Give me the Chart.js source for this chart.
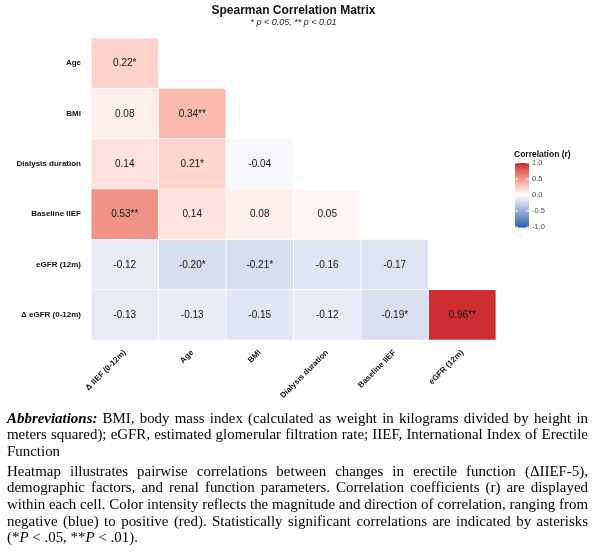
<!DOCTYPE html>
<html>
<head>
<meta charset="utf-8">
<script src="https://cdn.jsdelivr.net/npm/chart.js@4.4.1/dist/chart.umd.min.js"></script>
<style>
  html, body { margin: 0; padding: 0; background: #fff; }
  #wrap { position: relative; width: 592px; height: 553px; overflow: hidden; }
  #c { position: absolute; left: 0; top: 0; }
  #note { position: absolute; left: 7px; top: 410.5px; width: 581px; font-family: "Liberation Serif", "DejaVu Serif", serif; color: #000; font-size: 14px; line-height: 16.7px; transform-origin: 0 0; }
  #note .ln { white-space: nowrap; }
  #note .j { text-align: justify; text-align-last: justify; }
  #note .gap { margin-top: 3px; }
</style>
</head>
<body>
<div id="wrap">
  <canvas id="c" width="592" height="553"></canvas>
  <div id="note">
    <div class="ln j"><span><b><i>Abbreviations:</i></b> BMI, body mass index (calculated as weight in kilograms divided by height in</span></div>
    <div class="ln j"><span>meters squared); eGFR, estimated glomerular filtration rate; IIEF, International Index of Erectile</span></div>
    <div class="ln"><span>Function</span></div>
    <div class="ln j gap"><span>Heatmap illustrates pairwise correlations between changes in erectile function (ΔIIEF-5),</span></div>
    <div class="ln j"><span>demographic factors, and renal function parameters. Correlation coefficients (r) are displayed</span></div>
    <div class="ln j"><span>within each cell. Color intensity reflects the magnitude and direction of correlation, ranging from</span></div>
    <div class="ln j"><span>negative (blue) to positive (red). Statistically significant correlations are indicated by asterisks</span></div>
    <div class="ln"><span>(*<i>P</i> &lt; .05, **<i>P</i> &lt; .01).</span></div>
  </div>
</div>
<script>
// ---------------- data ----------------
const colLabels = ['Δ IIEF (0-12m)', 'Age', 'BMI', 'Dialysis duration', 'Baseline IIEF', 'eGFR (12m)'];
const rowLabels = ['Age', 'BMI', 'Dialysis duration', 'Baseline IIEF', 'eGFR (12m)', 'Δ eGFR (0-12m)'];

const corrAge          = [0.22];
const corrBMI          = [0.08, 0.34];
const corrDialysis     = [0.14, 0.21, -0.04];
const corrBaselineIIEF = [0.53, 0.14, 0.08, 0.05];
const corrEGFR12       = [-0.12, -0.20, -0.21, -0.16, -0.17];
const corrDeltaEGFR    = [-0.13, -0.13, -0.15, -0.12, -0.19, 0.96];

const sigAge          = ['*'];
const sigBMI          = ['', '**'];
const sigDialysis     = ['', '*', ''];
const sigBaselineIIEF = ['**', '', '', ''];
const sigEGFR12       = ['', '*', '*', '', ''];
const sigDeltaEGFR    = ['', '', '', '', '*', '**'];

const legendTicks = [1.0, 0.5, 0.0, -0.5, -1.0];
const legendTitle = 'Correlation (r)';
const titleText = 'Spearman Correlation Matrix';
const subtitleText = '* p < 0.05, ** p < 0.01';

const rowValues = [corrAge, corrBMI, corrDialysis, corrBaselineIIEF, corrEGFR12, corrDeltaEGFR];
const rowSig = [sigAge, sigBMI, sigDialysis, sigBaselineIIEF, sigEGFR12, sigDeltaEGFR];

// ---------------- colour (Lab gradient2) ----------------
function srgb2lin(c) { c /= 255; return c <= 0.04045 ? c / 12.92 : Math.pow((c + 0.055) / 1.055, 2.4); }
function lin2srgb(c) { c = c <= 0.0031308 ? 12.92 * c : 1.055 * Math.pow(c, 1 / 2.4) - 0.055; return Math.max(0, Math.min(255, Math.round(c * 255))); }
function hex2lab(h) {
  const r = srgb2lin(parseInt(h.slice(1, 3), 16)), g = srgb2lin(parseInt(h.slice(3, 5), 16)), b = srgb2lin(parseInt(h.slice(5, 7), 16));
  let X = (0.4124 * r + 0.3576 * g + 0.1805 * b) / 0.95047;
  let Y = (0.2126 * r + 0.7152 * g + 0.0722 * b);
  let Z = (0.0193 * r + 0.1192 * g + 0.9505 * b) / 1.08883;
  const f = t => t > 0.008856 ? Math.cbrt(t) : 7.787 * t + 16 / 116;
  X = f(X); Y = f(Y); Z = f(Z);
  return [116 * Y - 16, 500 * (X - Y), 200 * (Y - Z)];
}
function lab2rgb(L, a, b) {
  let Y = (L + 16) / 116, X = a / 500 + Y, Z = Y - b / 200;
  const fi = t => t * t * t > 0.008856 ? t * t * t : (t - 16 / 116) / 7.787;
  X = fi(X) * 0.95047; Y = fi(Y); Z = fi(Z) * 1.08883;
  const r = 3.2406 * X - 1.5372 * Y - 0.4986 * Z;
  const g = -0.9689 * X + 1.8758 * Y + 0.0415 * Z;
  const bb = 0.0557 * X - 0.2040 * Y + 1.0570 * Z;
  return 'rgb(' + lin2srgb(r) + ',' + lin2srgb(g) + ',' + lin2srgb(bb) + ')';
}
const LOW = hex2lab('#2166AC'), MID = hex2lab('#FFFFFF'), HIGH = hex2lab('#CA1E2A');
function colorFor(v) {
  const t = Math.min(1, Math.abs(v));
  const end = v >= 0 ? HIGH : LOW;
  return lab2rgb(MID[0] + (end[0] - MID[0]) * t, MID[1] + (end[1] - MID[1]) * t, MID[2] + (end[2] - MID[2]) * t);
}

// ---------------- datasets ----------------
const datasets = rowValues.map((vals, r) => ({
  label: rowLabels[r],
  data: colLabels.map((_, j) => j < vals.length ? [r, r + 1] : null),
  backgroundColor: colLabels.map((_, j) => j < vals.length ? colorFor(vals[j]) : 'rgba(0,0,0,0)'),
  borderColor: '#ffffff',
  borderWidth: 0.7,
  borderSkipped: false,
  barPercentage: 1,
  categoryPercentage: 1,
  grouped: false
}));

const SANS = '"Liberation Sans", Arial, Helvetica, sans-serif';

const cellLabels = {
  id: 'cellLabels',
  afterDatasetsDraw(chart) {
    const ctx = chart.ctx;
    ctx.save();
    ctx.font = '10px ' + SANS;
    ctx.fillStyle = '#111';
    ctx.textAlign = 'center';
    ctx.textBaseline = 'middle';
    rowValues.forEach((vals, r) => {
      const meta = chart.getDatasetMeta(r);
      vals.forEach((v, j) => {
        const el = meta.data[j];
        const p = el.getProps(['x', 'y', 'base'], true);
        ctx.fillText(v.toFixed(2) + rowSig[r][j], p.x, (p.y + p.base) / 2 + 0.5);
      });
    });
    ctx.restore();
  }
};

const colorBar = {
  id: 'colorBar',
  afterDraw(chart) {
    const ctx = chart.ctx;
    const x0 = 515, w = 14, yTop = 163, yBot = 227;
    ctx.save();
    ctx.font = 'bold 8.5px ' + SANS;
    ctx.fillStyle = '#111';
    ctx.textAlign = 'left';
    ctx.textBaseline = 'middle';
    ctx.fillText(legendTitle, 514, 155);
    const vMax = legendTicks[0], vMin = legendTicks[legendTicks.length - 1];
    const steps = 64;
    for (let i = 0; i < steps; i++) {
      const v = vMax - (vMax - vMin) * (i + 0.5) / steps;
      ctx.fillStyle = colorFor(v);
      const y = yTop + (yBot - yTop) * i / steps;
      ctx.fillRect(x0, y, w, (yBot - yTop) / steps + 0.6);
    }
    ctx.font = '7.5px ' + SANS;
    ctx.fillStyle = '#4d4d4d';
    legendTicks.forEach(t => {
      const y = yTop + (vMax - t) / (vMax - vMin) * (yBot - yTop);
      ctx.strokeStyle = '#ffffff';
      ctx.lineWidth = 1;
      ctx.beginPath();
      ctx.moveTo(x0, y); ctx.lineTo(x0 + 3, y);
      ctx.moveTo(x0 + w - 3, y); ctx.lineTo(x0 + w, y);
      ctx.stroke();
      ctx.fillText(t.toFixed(1), 532, y);
    });
    ctx.restore();
  }
};

new Chart(document.getElementById('c'), {
  type: 'bar',
  data: { labels: colLabels, datasets },
  options: {
    responsive: false,
    animation: false,
    layout: { padding: { left: 0, right: 96, top: 0, bottom: 0 } },
    plugins: {
      legend: { display: false },
      tooltip: { enabled: false },
      title: {
        display: true, text: titleText, fullSize: false, color: '#111',
        font: { family: SANS, size: 12, weight: 'bold' },
        padding: { top: 3, bottom: 0 }
      },
      subtitle: {
        display: true, text: subtitleText, fullSize: false, color: '#222',
        font: { family: SANS, size: 9, style: 'italic' },
        padding: { top: 0, bottom: 9.8 }
      }
    },
    scales: {
      x: {
        type: 'category',
        grid: { display: false, drawTicks: false },
        border: { display: false },
        ticks: {
          minRotation: 45, maxRotation: 45, autoSkip: false, padding: 8,
          color: '#111', font: { family: SANS, size: 8, weight: 'bold' }
        },
        afterFit(s) { s.height = 213; }
      },
      y: {
        type: 'linear', min: 0, max: 6, reverse: true,
        grid: { display: false, drawTicks: false },
        border: { display: false },
        afterBuildTicks(s) { s.ticks = rowLabels.map((_, i) => ({ value: i + 0.5 })); },
        ticks: {
          padding: 10, autoSkip: false,
          color: '#111', font: { family: SANS, size: 8, weight: 'bold' },
          callback: (v) => rowLabels[Math.floor(v)]
        },
        afterFit(s) { s.width = 91; }
      }
    }
  },
  plugins: [cellLabels, colorBar]
});

// stretch footnote glyphs horizontally so the widest natural line fills the width
(function fitNote() {
  const note = document.getElementById('note');
  const lines = Array.from(note.querySelectorAll('.ln'));
  const justified = lines.map(l => l.classList.contains('j'));
  lines.forEach(l => l.classList.remove('j'));
  let maxW = 0;
  lines.forEach(l => { maxW = Math.max(maxW, l.firstElementChild.getBoundingClientRect().width); });
  lines.forEach((l, i) => { if (justified[i]) l.classList.add('j'); });
  const k = 580 / maxW;
  note.style.width = (581 / k).toFixed(2) + 'px';
  note.style.transform = 'scaleX(' + k.toFixed(4) + ')';
})();
</script>
</body>
</html>
